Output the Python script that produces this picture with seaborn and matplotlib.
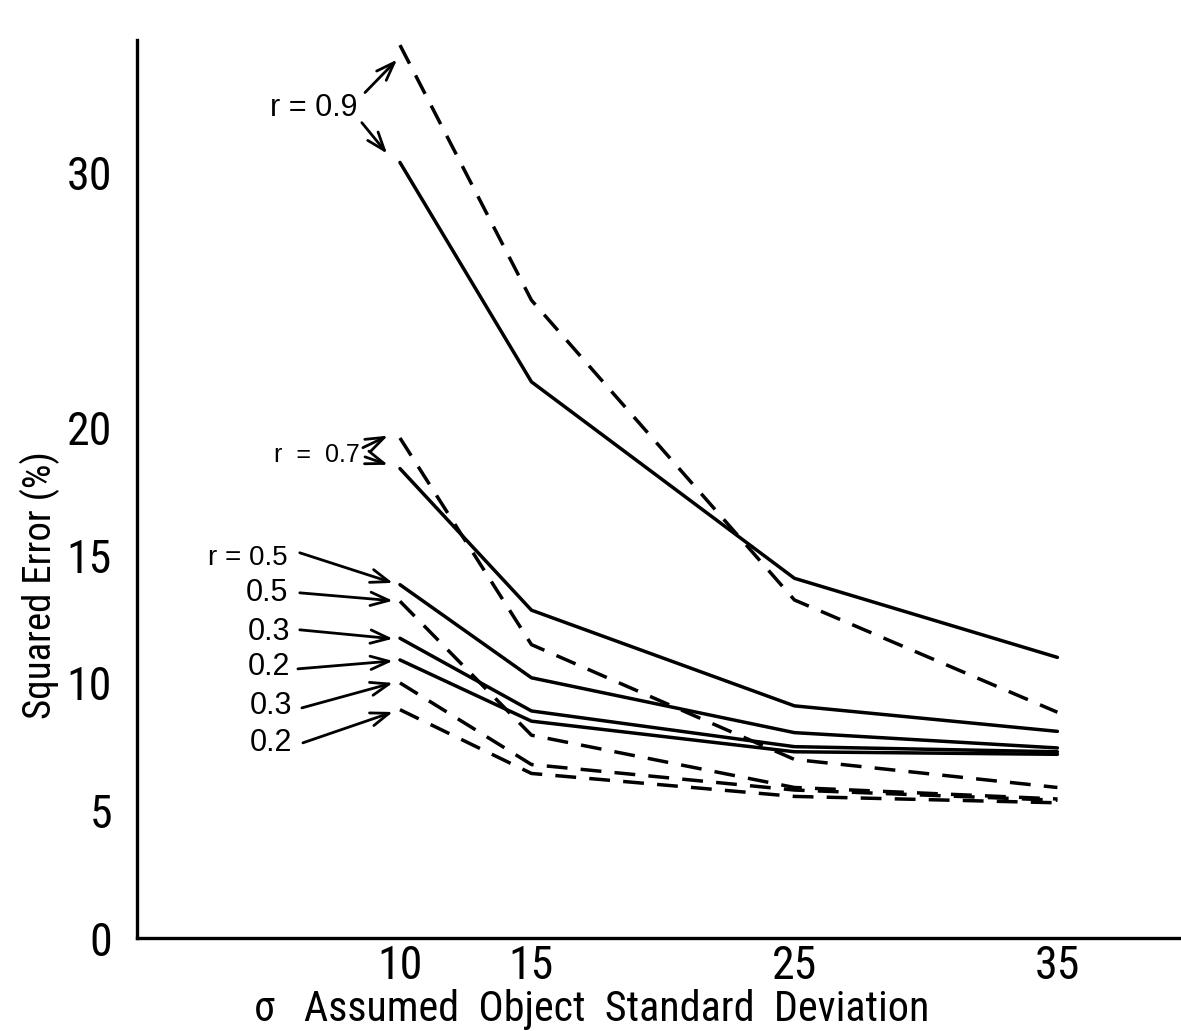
import matplotlib
matplotlib.use("Agg")
import matplotlib.pyplot as plt
from matplotlib import font_manager
from matplotlib.font_manager import FontProperties
import seaborn as sns
import pandas as pd

# ---------------- data ----------------
sigma = [10, 15, 25, 35]

solid_r09 = [30.4, 21.8, 14.1, 11.0]
dashed_r09 = [35.0, 25.0, 13.25, 8.85]
solid_r07 = [18.4, 12.85, 9.1, 8.1]
dashed_r07 = [19.6, 11.5, 7.0, 5.9]
solid_r05 = [13.85, 10.2, 8.05, 7.45]
dashed_r05 = [13.2, 7.95, 5.9, 5.45]
solid_r03 = [11.75, 8.9, 7.5, 7.3]
dashed_r03 = [10.0, 6.8, 5.8, 5.4]
solid_r02 = [10.9, 8.5, 7.3, 7.2]
dashed_r02 = [8.95, 6.45, 5.55, 5.3]

x_ticks = [10, 15, 25, 35]
y_ticks = [0, 5, 10, 15, 20, 30]

x_label = "σ   Assumed  Object  Standard  Deviation"
y_label = "Squared Error (%)"

series = [
    ("r09s", solid_r09, "solid"), ("r09d", dashed_r09, "dashed"),
    ("r07s", solid_r07, "solid"), ("r07d", dashed_r07, "dashed"),
    ("r05s", solid_r05, "solid"), ("r05d", dashed_r05, "dashed"),
    ("r03s", solid_r03, "solid"), ("r03d", dashed_r03, "dashed"),
    ("r02s", solid_r02, "solid"), ("r02d", dashed_r02, "dashed"),
]

# ---------------- fonts ----------------
sns.set_theme(style="white")


def pick_font(cands):
    names = {f.name for f in font_manager.fontManager.ttflist}
    for fam, stretch in cands:
        try:
            fp = FontProperties(family=fam, stretch=stretch)
            path = font_manager.findfont(fp, fallback_to_default=False)
        except Exception:
            continue
        low = path.lower()
        if stretch == "condensed" and "condensed" not in low and "narrow" not in low:
            continue
        if fam.lower().replace(" ", "") not in low.replace(" ", "").replace("-", "").replace("_", "") \
                and fam not in names:
            continue
        return FontProperties(fname=path)
    return FontProperties(family="DejaVu Sans")


narrow_fp = pick_font([("Liberation Sans Narrow", "normal"),
                       ("Roboto Condensed", "normal"),
                       ("Open Sans Condensed", "normal"),
                       ("DejaVu Sans", "condensed"),
                       ("Roboto", "normal"),
                       ("Liberation Sans", "normal"),
                       ("DejaVu Sans", "normal")])
regular_fp = pick_font([("Liberation Sans", "normal"), ("Roboto", "normal"),
                        ("DejaVu Sans", "normal")])

fig = plt.figure(figsize=(11.81, 10.31), dpi=100)
ax = fig.add_axes([0.116, 0.0902, 0.884, 0.871])

for name, vals, kind in series:
    df = pd.DataFrame({"sigma": sigma, "err": vals})
    ls = "-" if kind == "solid" else (0, (6, 3.8))
    sns.lineplot(data=df, x="sigma", y="err", ax=ax, color="black",
                 linewidth=2.5, linestyle=ls, clip_on=False)

ax.set_xlim(0, 39.7)
ax.set_ylim(0, 35.2)

ax.set_xticks(x_ticks)
ax.set_xticklabels([str(t) for t in x_ticks])
ax.set_yticks(y_ticks)
ax.set_yticklabels([str(t) for t in y_ticks])
ax.tick_params(axis="x", direction="in", length=27, width=2.2, pad=4, colors="black")
ax.tick_params(axis="y", direction="in", length=24, width=1.5, pad=18, colors="black")

for s in ["top", "right"]:
    ax.spines[s].set_visible(False)
for s in ["left", "bottom"]:
    ax.spines[s].set_color("black")
    ax.spines[s].set_linewidth(2.4)

ax.set_xlabel(x_label, color="black", va="baseline")
ax.xaxis.set_label_coords(0.436, -0.092)
ax.set_ylabel(y_label, color="black", va="center")
ax.yaxis.set_label_coords(-0.093, 0.393)


def fp_sized(base, size):
    p = base.copy()
    p.set_size(size)
    return p


renderer = fig.canvas.get_renderer()


def fit(text_obj, base, target_px, max_size, horizontal=True):
    text_obj.set_fontproperties(fp_sized(base, 20))
    bb = text_obj.get_window_extent(renderer)
    w = bb.width if horizontal else bb.height
    size = min(max_size, 20 * target_px / w)
    text_obj.set_fontproperties(fp_sized(base, size))
    return size


fit(ax.xaxis.label, narrow_fp, 675, 33)
fit(ax.yaxis.label, narrow_fp, 270, 28, horizontal=False)
probe = ax.text(0, 0, "30")
tsize = fit(probe, narrow_fp, 46, 33)
probe.remove()
for lab in ax.get_xticklabels() + ax.get_yticklabels():
    lab.set_fontproperties(fp_sized(narrow_fp, tsize))

# ---------------- annotations ----------------
labels = ["r = 0.9", "r  =  0.7", "r = 0.5", "0.5", "0.3", "0.2", "0.3", "0.2"]
label_x = [8.40, 8.48, 5.74, 5.74, 5.81, 5.81, 5.89, 5.89]
label_y = [32.55, 18.94, 14.90, 13.53, 12.00, 10.63, 9.10, 7.65]
label_size = [22, 18, 20, 22, 22, 22, 22, 22]
for t, lx, ly, fs in zip(labels, label_x, label_y, label_size):
    ax.text(lx, ly, t, ha="right", va="center", color="black",
            fontproperties=fp_sized(regular_fp, fs))

# arrows: start point, target series, tip offset from the series' first point
arrow_start = [(8.67, 33.14), (8.55, 31.96), (8.59, 19.22), (8.67, 18.86),
               (6.19, 15.10), (6.19, 13.53), (6.19, 12.08), (6.12, 10.55),
               (6.27, 9.02), (6.31, 7.65)]
arrow_target = [dashed_r09, solid_r09, dashed_r07, solid_r07,
                solid_r05, dashed_r05, solid_r03, solid_r02, dashed_r03, dashed_r02]
tip_dx = [-0.11, -0.49, -0.46, -0.46, -0.27, -0.27, -0.27, -0.27, -0.27, -0.27]
tip_dy = [-0.57, 0.35, 0.09, 0.15, 0.07, 0.02, -0.02, -0.04, 0.0, -0.09]
for (sx, sy), tgt, dx, dy in zip(arrow_start, arrow_target, tip_dx, tip_dy):
    ax.annotate("", xy=(sigma[0] + dx, tgt[0] + dy), xytext=(sx, sy),
                arrowprops=dict(arrowstyle="->,head_length=1.1,head_width=0.4",
                                lw=2.0, color="black", shrinkA=0, shrinkB=0),
                annotation_clip=False)

fig.savefig("out.png", dpi=100, facecolor="white")
